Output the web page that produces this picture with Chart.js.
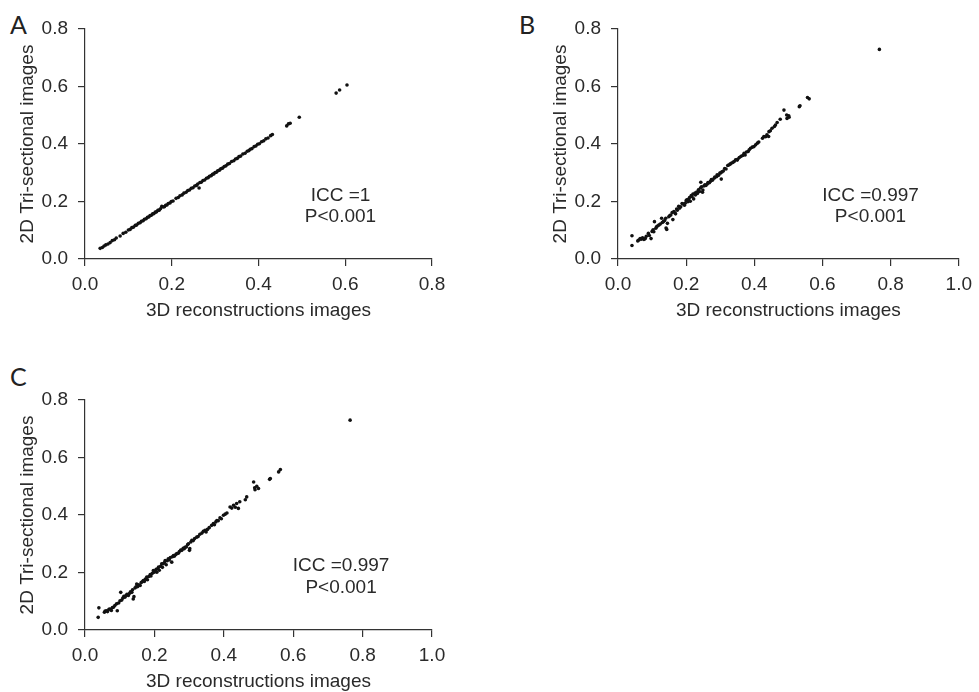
<!DOCTYPE html>
<html>
<head>
<meta charset="utf-8">
<script src="https://cdn.jsdelivr.net/npm/chart.js@4/dist/chart.umd.min.js"></script>
<style>
  html, body { margin: 0; padding: 0; background: #fff; overflow: hidden; width: 979px; height: 692px; }
  canvas { position: absolute; }
  .tag { position: absolute; font-family: Lato, sans-serif; font-size: 25px; line-height: 25px; color: #222; }
</style>
</head>
<body>
<div class="tag" style="left:10px;top:12px">A</div>
<div class="tag" style="left:519px;top:12px">B</div>
<div class="tag" style="left:10px;top:364px">C</div>
<canvas id="chartA" width="460" height="330" style="left:0;top:0"></canvas>
<canvas id="chartB" width="446" height="330" style="left:533px;top:0"></canvas>
<canvas id="chartC" width="460" height="330" style="left:0;top:371px"></canvas>
<script>
// Panel A - ICC = 1
const aX = [0.035,0.040,0.044,0.048,0.053,0.058,0.063,0.068,0.072,0.081,0.088,0.094,0.100,0.104,0.108,0.112,0.116,0.119,0.123,0.127,
  0.130,0.134,0.137,0.141,0.144,0.147,0.150,0.153,0.156,0.159,0.162,0.165,0.168,0.171,0.174,0.177,0.180,0.183,0.186,0.189,
  0.192,0.196,0.199,0.203,0.210,0.215,0.219,0.224,0.228,0.233,0.237,0.241,0.245,0.249,0.253,0.257,0.260,0.263,0.265,0.268,
  0.272,0.276,0.280,0.284,0.287,0.291,0.294,0.297,0.300,0.303,0.306,0.310,0.313,0.317,0.321,0.325,0.329,0.333,0.338,0.343,
  0.347,0.351,0.355,0.359,0.364,0.369,0.374,0.378,0.381,0.385,0.390,0.394,0.398,0.402,0.407,0.412,0.417,0.422,0.428,0.432,
  0.465,0.469,0.473,0.494,0.579,0.587,0.604];
const aY = [0.037,0.040,0.045,0.049,0.052,0.057,0.064,0.067,0.073,0.080,0.089,0.093,0.101,0.103,0.109,0.111,0.117,0.118,0.124,0.126,
  0.131,0.133,0.138,0.140,0.145,0.146,0.151,0.152,0.157,0.158,0.163,0.164,0.169,0.170,0.175,0.183,0.181,0.182,0.187,0.188,
  0.193,0.195,0.200,0.202,0.211,0.214,0.220,0.223,0.229,0.232,0.238,0.240,0.246,0.248,0.254,0.256,0.261,0.247,0.266,0.267,
  0.273,0.275,0.281,0.283,0.288,0.290,0.295,0.296,0.301,0.302,0.307,0.309,0.314,0.316,0.322,0.324,0.330,0.332,0.339,0.342,
  0.348,0.350,0.356,0.358,0.365,0.368,0.375,0.377,0.382,0.384,0.391,0.393,0.399,0.401,0.408,0.411,0.418,0.421,0.429,0.433,
  0.463,0.470,0.472,0.493,0.577,0.588,0.605];

// Panel B - ICC = 0.997
const bX = [0.041,0.041,0.058,0.061,0.065,0.068,0.072,0.076,0.080,0.083,0.089,0.092,0.097,0.100,0.103,0.105,0.107,0.111,0.113,0.116,
  0.120,0.124,0.128,0.130,0.133,0.137,0.140,0.141,0.143,0.145,0.149,0.152,0.155,0.159,0.161,0.164,0.167,0.169,0.172,0.174,
  0.178,0.181,0.184,0.188,0.190,0.195,0.197,0.200,0.202,0.205,0.207,0.210,0.212,0.215,0.217,0.220,0.222,0.226,0.227,0.231,
  0.233,0.236,0.239,0.242,0.243,0.245,0.248,0.249,0.252,0.255,0.258,0.262,0.264,0.268,0.271,0.274,0.277,0.282,0.284,0.289,
  0.291,0.295,0.299,0.301,0.303,0.305,0.309,0.313,0.317,0.322,0.325,0.329,0.332,0.337,0.341,0.345,0.350,0.351,0.356,0.361,
  0.366,0.370,0.373,0.377,0.382,0.385,0.389,0.394,0.399,0.404,0.409,0.413,0.424,0.428,0.433,0.437,0.442,0.443,0.447,0.452,
  0.459,0.462,0.467,0.476,0.487,0.495,0.496,0.501,0.502,0.532,0.534,0.556,0.561,0.767];
const bY = [0.081,0.047,0.063,0.066,0.071,0.069,0.074,0.068,0.071,0.079,0.089,0.082,0.071,0.096,0.102,0.095,0.130,0.107,0.112,0.115,
  0.118,0.122,0.142,0.127,0.130,0.134,0.142,0.108,0.103,0.124,0.147,0.151,0.153,0.162,0.137,0.165,0.160,0.157,0.174,0.170,
  0.183,0.177,0.182,0.193,0.192,0.187,0.194,0.203,0.206,0.199,0.208,0.214,0.201,0.221,0.217,0.226,0.209,0.229,0.223,0.233,
  0.228,0.241,0.235,0.247,0.267,0.251,0.232,0.240,0.254,0.258,0.256,0.261,0.266,0.265,0.270,0.276,0.274,0.281,0.285,0.286,
  0.293,0.291,0.299,0.299,0.278,0.303,0.306,0.315,0.313,0.325,0.327,0.330,0.333,0.336,0.339,0.345,0.344,0.347,0.353,0.357,
  0.360,0.368,0.362,0.372,0.374,0.380,0.385,0.389,0.391,0.397,0.403,0.407,0.420,0.426,0.425,0.432,0.426,0.443,0.446,0.455,
  0.461,0.466,0.475,0.486,0.518,0.501,0.489,0.498,0.493,0.530,0.533,0.562,0.557,0.729];

// Panel C - ICC = 0.997
const cX = [0.038,0.040,0.056,0.058,0.062,0.065,0.069,0.072,0.076,0.079,0.082,0.086,0.091,0.093,0.097,0.101,0.103,0.106,0.109,0.112,
  0.115,0.118,0.121,0.125,0.128,0.131,0.135,0.137,0.139,0.141,0.144,0.147,0.149,0.152,0.155,0.159,0.162,0.165,0.168,0.171,
  0.174,0.178,0.180,0.184,0.188,0.190,0.194,0.197,0.199,0.202,0.205,0.207,0.210,0.212,0.214,0.218,0.221,0.223,0.226,0.229,
  0.231,0.234,0.237,0.240,0.243,0.246,0.250,0.252,0.255,0.258,0.262,0.265,0.269,0.272,0.276,0.279,0.283,0.286,0.288,0.292,
  0.296,0.298,0.301,0.302,0.305,0.308,0.312,0.316,0.322,0.326,0.331,0.337,0.341,0.346,0.349,0.353,0.358,0.365,0.370,0.373,
  0.377,0.380,0.384,0.389,0.393,0.399,0.404,0.409,0.418,0.423,0.428,0.433,0.437,0.442,0.446,0.462,0.466,0.486,0.489,0.490,
  0.495,0.500,0.532,0.534,0.558,0.563,0.764];
const cY = [0.044,0.077,0.062,0.066,0.067,0.064,0.072,0.073,0.068,0.078,0.079,0.085,0.091,0.067,0.094,0.102,0.131,0.104,0.111,0.117,
  0.114,0.120,0.124,0.120,0.127,0.133,0.131,0.140,0.108,0.116,0.146,0.150,0.160,0.151,0.157,0.155,0.165,0.168,0.172,0.169,
  0.177,0.184,0.175,0.186,0.193,0.188,0.197,0.207,0.201,0.204,0.211,0.201,0.214,0.219,0.208,0.222,0.230,0.218,0.231,0.235,
  0.242,0.227,0.241,0.248,0.244,0.252,0.236,0.255,0.259,0.257,0.263,0.266,0.267,0.273,0.278,0.277,0.284,0.283,0.288,0.289,
  0.297,0.300,0.277,0.283,0.306,0.312,0.311,0.318,0.323,0.325,0.333,0.337,0.343,0.347,0.341,0.350,0.356,0.364,0.370,0.366,
  0.376,0.381,0.380,0.390,0.387,0.399,0.403,0.407,0.428,0.424,0.434,0.427,0.440,0.423,0.446,0.453,0.463,0.515,0.495,0.488,
  0.500,0.492,0.524,0.527,0.550,0.558,0.730];

// tick labels
const yTicks = [0.0, 0.2, 0.4, 0.6, 0.8];
const xTicksA = [0.0, 0.2, 0.4, 0.6, 0.8];
const xTicksBC = [0.0, 0.2, 0.4, 0.6, 0.8, 1.0];

const xTitle = '3D reconstructions images';
const yTitle = '2D Tri-sectional images';

const FONT = 'Liberation Sans';
const FSIZE = 19;
const INK = '#2a2a2a';
const AXIS = '#333';

// writes the ICC / P text at data coordinates
const notePlugin = {
  id: 'note',
  afterDatasetsDraw(chart, args, opts) {
    const { ctx, scales: { x, y } } = chart;
    ctx.save();
    ctx.font = FSIZE + 'px "' + FONT + '"';
    ctx.fillStyle = INK;
    ctx.textAlign = 'center';
    ctx.textBaseline = 'middle';
    opts.lines.forEach((t, i) => {
      ctx.fillText(t, x.getPixelForValue(opts.x), y.getPixelForValue(opts.y[i]));
    });
    ctx.restore();
  }
};

function axisOpts(ticks, max, title, isX) {
  return {
    type: 'linear',
    min: 0,
    max: max,
    afterBuildTicks: s => { s.ticks = ticks.map(v => ({ value: v })); },
    afterFit: s => { if (isX) s.height = 71; else s.width = 85; },
    ticks: {
      callback: v => Number(v).toFixed(1),
      padding: isX ? 7 : 10,
      color: INK,
      maxRotation: 0,
      font: { family: FONT, size: FSIZE }
    },
    grid: { drawOnChartArea: false, drawTicks: true, tickLength: 7, color: AXIS, lineWidth: 1.2 },
    border: { display: true, color: AXIS, width: 1.2 },
    title: {
      display: true,
      text: title,
      color: INK,
      font: { family: FONT, size: FSIZE },
      padding: isX ? { top: 0, bottom: 8 } : { top: 16, bottom: 0 }
    }
  };
}

function makeChart(id, xs, ys, xTicks, xMax, padRight, note) {
  const pts = xs.map((v, i) => ({ x: v, y: ys[i] }));
  return new Chart(document.getElementById(id), {
    type: 'scatter',
    data: {
      datasets: [{
        data: pts,
        pointRadius: 1.8,
        pointBorderWidth: 0,
        backgroundColor: '#111',
        borderColor: '#111'
      }]
    },
    options: {
      responsive: false,
      animation: false,
      layout: { padding: { left: 0, top: 29, right: padRight, bottom: 0 } },
      plugins: {
        legend: { display: false },
        tooltip: { enabled: false },
        note: note
      },
      scales: {
        x: axisOpts(xTicks, xMax, xTitle, true),
        y: axisOpts(yTicks, 0.8, yTitle, false)
      }
    },
    plugins: [notePlugin]
  });
}

makeChart('chartA', aX, aY, xTicksA, 0.8, 28, { x: 0.589, y: [0.219, 0.148], lines: ['ICC =1', 'P<0.001'] });
makeChart('chartB', bX, bY, xTicksBC, 1.0, 14, { x: 0.741, y: [0.219, 0.148], lines: ['ICC =0.997', 'P<0.001'] });
makeChart('chartC', cX, cY, xTicksBC, 1.0, 28, { x: 0.738, y: [0.222, 0.148], lines: ['ICC =0.997', 'P<0.001'] });
</script>
</body>
</html>
